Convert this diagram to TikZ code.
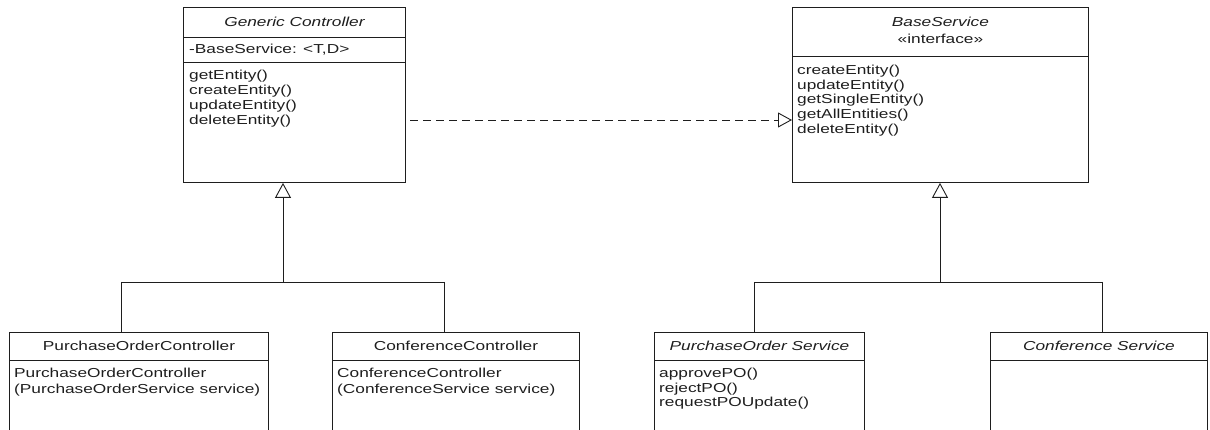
\documentclass[tikz,border=0pt]{standalone}
\usepackage{fontspec}
\setmainfont{Liberation Sans}[FakeStretch=1.33]
\usetikzlibrary{arrows.meta}
\definecolor{ink}{HTML}{1E1E1E}
\begin{document}
\begin{tikzpicture}[x=1pt,y=-1pt,
  font=\fontsize{13pt}{14.7pt}\selectfont,
  every node/.style={text=ink},
  classbox/.style={draw=ink, line width=0.9pt, anchor=north west, inner sep=0pt},
  rule/.style={draw=ink, line width=0.9pt},
  label/.style={anchor=base, inner sep=0pt},
  body/.style={anchor=base west, inner sep=0pt},
  gen/.style={draw=ink, line width=0.9pt,
    -{Triangle[open, length=15pt, width=16pt, fill=white]}},
  real/.style={draw=ink, line width=0.9pt, dash pattern=on 8pt off 5pt,
    -{Triangle[open, length=14pt, width=15pt, fill=white]}},
]
\useasboundingbox (0,0) rectangle (1210,430);
\clip (0,0) rectangle (1210,430);

% ---- class boxes ----
\node[classbox, minimum width=222pt, minimum height=175pt] (gc) at (183,7) {};
\node[classbox, minimum width=296pt, minimum height=175pt] (bs) at (792,7) {};
\node[classbox, minimum width=259pt, minimum height=110pt] (poc) at (9,332) {};
\node[classbox, minimum width=247pt, minimum height=110pt] (cc) at (332,332) {};
\node[classbox, minimum width=210pt, minimum height=110pt] (pos) at (654,332) {};
\node[classbox, minimum width=217pt, minimum height=110pt] (cs) at (990,332) {};

% ---- compartment rules ----
\draw[rule] (gc.west |- 0,37) -- (gc.east |- 0,37);
\draw[rule] (gc.west |- 0,62) -- (gc.east |- 0,62);
\draw[rule] (bs.west |- 0,56) -- (bs.east |- 0,56);
\foreach \b in {poc,cc,pos,cs}
  \draw[rule] (\b.west |- 0,360) -- (\b.east |- 0,360);

% ---- Generic Controller ----
\node[label] (gcTitle) at (gc.center |- 0,26.5) {\itshape Generic Controller};
\node[body] (gcAttr) at (189,54) {-BaseService: <T,D>};
\foreach \t [count=\i] in {getEntity(),createEntity(),updateEntity(),deleteEntity()}
  \node[body] (gcOp\i) at (189,{80+14.7*(\i-1)}) {\t};

% ---- BaseService ----
\node[label] (bsTitle) at (bs.center |- 0,26.5) {\itshape BaseService};
\node[label] (bsStereo) at (bs.center |- 0,44) {«interface»};
\foreach \t [count=\i] in {createEntity(),updateEntity(),getSingleEntity(),getAllEntities(),deleteEntity()}
  \node[body] (bsOp\i) at (797,{74.5+14.7*(\i-1)}) {\t};

% ---- controllers ----
\node[label] (pocTitle) at (poc.center |- 0,350.5) {PurchaseOrderController};
\node[body] (pocBody1) at (14,377.5) {PurchaseOrderController};
\node[body] (pocBody2) at (14,393) {(PurchaseOrderService service)};
\node[label] (ccTitle) at (cc.center |- 0,350.5) {ConferenceController};
\node[body] (ccBody1) at (337,377.5) {ConferenceController};
\node[body] (ccBody2) at (337,393) {(ConferenceService service)};

% ---- services ----
\node[label] (posTitle) at (pos.center |- 0,350.5) {\itshape PurchaseOrder Service};
\foreach \t [count=\i] in {approvePO(),rejectPO(),requestPOUpdate()}
  \node[body] (posOp\i) at (659,{377.5+14.7*(\i-1)}) {\t};
\node[label] (csTitle) at (cs.center |- 0,350.5) {\itshape Conference Service};

% ---- realization ----
\coordinate (rs) at (410,120);
\draw[real] (rs) -- (rs -| bs.west);

% ---- generalization, controllers ----
\coordinate (lj) at (283,282);
\coordinate (lja) at (121,282);
\coordinate (ljb) at (444,282);
\draw[gen] (lj) -- (lj |- gc.south);
\draw[rule] (lja) -- (ljb);
\draw[rule] (lja) -- (lja |- poc.north);
\draw[rule] (ljb) -- (ljb |- cc.north);

% ---- generalization, services ----
\coordinate (rj) at (940,282);
\coordinate (rja) at (754,282);
\coordinate (rjb) at (1102,282);
\draw[gen] (rj) -- (rj |- bs.south);
\draw[rule] (rja) -- (rjb);
\draw[rule] (rja) -- (rja |- pos.north);
\draw[rule] (rjb) -- (rjb |- cs.north);
\end{tikzpicture}
\end{document}
